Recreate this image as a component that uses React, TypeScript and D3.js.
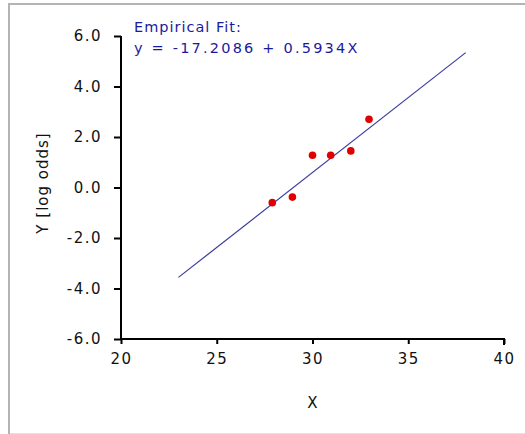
import React, {useEffect, useRef} from 'react';
import * as d3 from "d3";

// observed points (x, log odds)
const xValues = [27.9, 28.95, 30, 30.95, 32, 32.95];
const yValues = [-0.6, -0.38, 1.28, 1.28, 1.45, 2.7];
// fitted line y = a + bX, drawn from 23 to 38
const fitIntercept = -17.2086;
const fitSlope = 0.5934;
const fitRange = [23, 38];
const xTicks = [20, 25, 30, 35, 40];
const yTicks = [-6, -4, -2, 0, 2, 4, 6];
const titleLines = ["Empirical Fit:", "y = -17.2086 + 0.5934X"];

const FONT = "'DejaVu Sans', Verdana, sans-serif";

const App = () => {
    const svgRef = useRef<SVGSVGElement>(null);
    const width = 525, height = 434;
    const left = 121, right = 504, top = 36, bottom = 339;

    useEffect(() => {
        const svg = d3.select(svgRef.current);
        svg.selectAll("*").remove();

        // frame
        svg.append("rect").attr("width", width).attr("height", height).attr("fill", "#fff");
        svg.append("line").attr("x1", 8).attr("x2", width).attr("y1", 4).attr("y2", 4)
            .attr("stroke", "#b4b4b4").attr("stroke-width", 2);
        svg.append("line").attr("x1", 9).attr("x2", 9).attr("y1", 3).attr("y2", height)
            .attr("stroke", "#b4b4b4").attr("stroke-width", 2);
        svg.append("line").attr("x1", 10).attr("x2", width).attr("y1", 433.5).attr("y2", 433.5)
            .attr("stroke", "#e2e2e2").attr("stroke-width", 1);

        const x = d3.scaleLinear().domain([20, 40]).range([left, right]);
        const y = d3.scaleLinear().domain([-6, 6]).range([bottom, top]);

        // plain hyphen minus like the original
        const fmt = (d: number) => d.toFixed(1);

        const yAxis = svg.append("g")
            .attr("transform", `translate(${left},0)`)
            .call(d3.axisLeft(y).tickValues(yTicks).tickSize(7).tickPadding(12).tickFormat(fmt));
        const xAxis = svg.append("g")
            .attr("transform", `translate(0,${bottom})`)
            .call(d3.axisBottom(x).tickValues(xTicks).tickSize(5).tickPadding(9));

        [yAxis, xAxis].forEach(g => {
            g.select(".domain").attr("stroke", "#000").attr("stroke-width", 2);
            g.selectAll(".tick line").attr("stroke", "#000").attr("stroke-width", 2);
            g.selectAll(".tick text")
                .attr("fill", "#111")
                .style("font-family", FONT)
                .style("font-size", "15px")
                .style("letter-spacing", "1.5px");
        });
        yAxis.select(".domain").attr("d", `M-0,${top}V${bottom}`);
        xAxis.select(".domain").attr("d", `M${left},0H${right}V6`);

        // axis titles
        svg.append("text")
            .attr("x", (left + right) / 2).attr("y", 408)
            .attr("text-anchor", "middle")
            .style("font-family", FONT).style("font-size", "15px")
            .attr("fill", "#111")
            .text("X");
        svg.append("text")
            .attr("transform", `translate(48,183) rotate(-90)`)
            .attr("text-anchor", "middle")
            .style("font-family", FONT).style("font-size", "15px")
            .style("letter-spacing", "1px")
            .attr("fill", "#111")
            .text("Y [log odds]");

        // fit line
        svg.append("line")
            .attr("x1", x(fitRange[0])).attr("y1", y(fitIntercept + fitSlope * fitRange[0]))
            .attr("x2", x(fitRange[1])).attr("y2", y(fitIntercept + fitSlope * fitRange[1]))
            .attr("stroke", "#3a3aa0").attr("stroke-width", 1.2);

        // points
        svg.append("g").selectAll("circle")
            .data(xValues)
            .enter()
            .append("circle")
            .attr("cx", d => x(d))
            .attr("cy", (d, i) => y(yValues[i]))
            .attr("r", 3.8)
            .attr("fill", "#e00000");

        // equation
        svg.append("g").selectAll("text")
            .data(titleLines)
            .enter()
            .append("text")
            .attr("x", 134)
            .attr("y", (d, i) => 32 + i * 21)
            .attr("fill", "#1a1aa0")
            .style("font-family", FONT)
            .style("font-size", "14.5px")
            .style("letter-spacing", (d, i) => i === 0 ? "1px" : "2.2px")
            .text(d => d);
    }, []);

    return <svg ref={svgRef} width={width} height={height}
                style={{position: "absolute", left: 0, top: 0}}/>;
};

export default App;
